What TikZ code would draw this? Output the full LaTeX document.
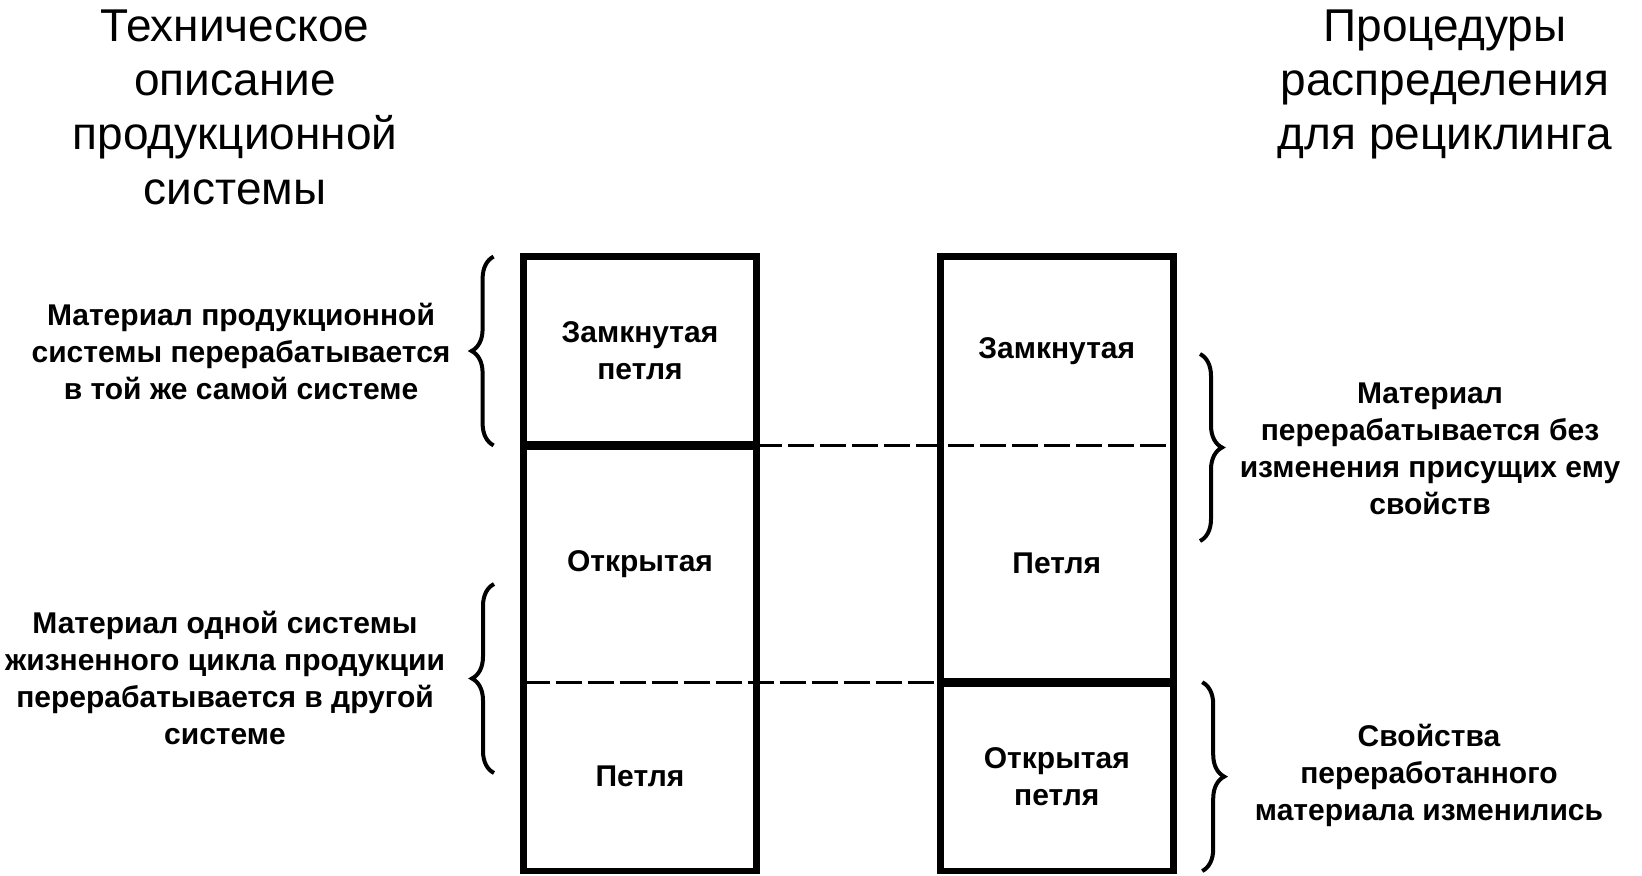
\documentclass[tikz,border=0pt]{standalone}
\usepackage{fontspec}
\setmainfont{Liberation Sans}
\usetikzlibrary{positioning,calc,decorations.pathreplacing}
\tikzset{
  cell/.style={rectangle, inner sep=0pt, minimum width=116pt, align=center,
               font=\fontsize{15}{18.5}\selectfont\bfseries},
  note/.style={inner sep=0pt, align=center, font=\fontsize{15}{18.5}\selectfont\bfseries},
  head/.style={inner sep=0pt, align=center, font=\fontsize{23}{27.2}\selectfont},
  frame/.style={line width=3.3pt},
  divider/.style={line width=4.5pt},
  sepline/.style={line width=1.7pt, dash pattern=on 13pt off 3pt},
  curly/.style={decorate, decoration={brace, amplitude=11pt}, line width=2pt},
}
\begin{document}
\begin{tikzpicture}[x=0.5pt, y=-0.5pt]
  \useasboundingbox (0,0) rectangle (1642,875);
  % headers
  \node[head, anchor=north] (th) at (235,9) {Техническое\\описание\\продукционной\\системы};
  \node[head, anchor=north] (rh) at (1445,9) {Процедуры\\распределения\\для рециклинга};
  % left column
  \node[cell, minimum height=94pt] (lzam) at (640,351) {Замкнутая\\петля};
  \node[cell, minimum height=118pt, below=0pt of lzam] (lotk) {Открытая};
  \node[cell, minimum height=94pt, below=0pt of lotk] (lpet) {Петля};
  % right column
  \node[cell, minimum height=94pt, right=92pt of lzam] (rzam) {Замкнутая};
  \node[cell, minimum height=118pt, below=0pt of rzam] (rpet) {Петля};
  \node[cell, minimum height=94pt, below=0pt of rpet] (rotk) {Открытая\\петля};
  \draw[sepline] (lzam.south east) -- (rzam.south east);
  \draw[sepline] (lotk.south west) -- (rpet.south west);
  \draw[frame] (lzam.north west) rectangle (lpet.south east);
  \draw[divider] (lzam.south west) -- (lzam.south east);
  \draw[frame] (rzam.north west) rectangle (rotk.south east);
  \draw[divider] (rpet.south west) -- (rpet.south east);
  % braces and notes
  \draw[curly] ($(lzam.south west)+(-30,0)$) -- ($(lzam.north west)+(-30,0)$);
  \draw[curly] (494,773) -- (494,584);
  \draw[curly] (1200,354) -- (1200,541);
  \draw[curly] ($(rotk.north east)+(29,0)$) -- ($(rotk.south east)+(29,0)$);
  \node[note] (la) at (241,351) {Материал продукционной\\системы перерабатывается\\в той же самой системе};
  \node[note] (lb) at (225,678) {Материал одной системы\\жизненного цикла продукции\\перерабатывается в другой\\системе};
  \node[note] (ra) at (1430,449) {Материал\\перерабатывается без\\изменения присущих ему\\свойств};
  \node[note] (rb) at (1429,775) {Свойства\\переработанного\\материала изменились};
\end{tikzpicture}
\end{document}
